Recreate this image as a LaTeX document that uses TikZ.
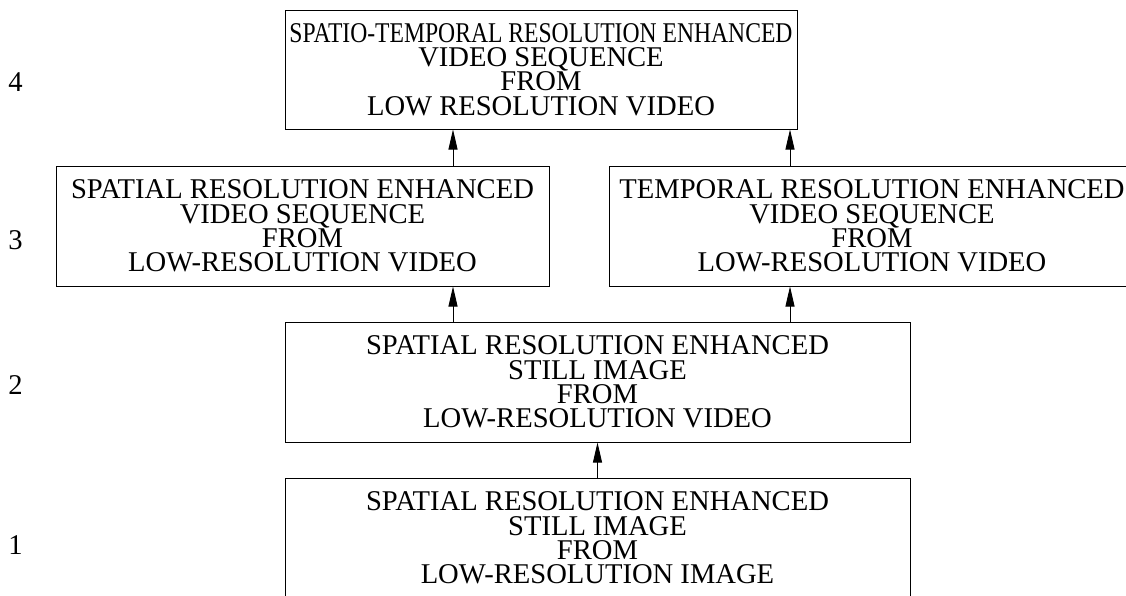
\documentclass[tikz,border=0pt]{standalone}
\usepackage{fontspec}
\setmainfont{Liberation Serif}
\usetikzlibrary{arrows.meta}
\begin{document}
\begin{tikzpicture}[x=1pt,y=-1pt,
  level/.style={draw, line width=1pt, align=center, inner sep=0pt,
    font=\fontsize{28.6}{24.3}\selectfont},
  num/.style={font=\fontsize{28.6}{24.3}\selectfont},
  arr/.style={line width=0.9pt, -{Triangle[length=20pt,width=9pt]}}]

\clip (0,0) rectangle (1126,595);

%draw levels
\node[num] (n4) at (15.5,82.5) {4};
\node[num] (n3) at (15.5,240) {3};
\node[num] (n2) at (15.5,385) {2};
\node[num] (n1) at (15.5,545) {1};

%draw boxes
\node[level, minimum width=512pt, minimum height=119pt] (st4) at (541,69.5)
  {\scalebox{0.826}[1]{SPATIO-TEMPORAL RESOLUTION ENHANCED}\\VIDEO SEQUENCE\\FROM\\LOW RESOLUTION VIDEO};
\node[level, minimum width=493pt, minimum height=120pt] (sp3) at (302.5,226)
  {SPATIAL RESOLUTION ENHANCED\\VIDEO SEQUENCE\\FROM\\LOW-RESOLUTION VIDEO};
\node[level, minimum width=526pt, minimum height=120pt] (tm3) at (872,226)
  {TEMPORAL RESOLUTION ENHANCED\\VIDEO SEQUENCE\\FROM\\LOW-RESOLUTION VIDEO};
\node[level, minimum width=625pt, minimum height=120pt] (sp2) at (597.5,382)
  {SPATIAL RESOLUTION ENHANCED\\STILL IMAGE\\FROM\\LOW-RESOLUTION VIDEO};
\node[level, minimum width=625pt, minimum height=120pt] (sp1) at (597.5,538)
  {SPATIAL RESOLUTION ENHANCED\\STILL IMAGE\\FROM\\LOW-RESOLUTION IMAGE};

%draw arrows
\coordinate (cl) at (453,0);
\coordinate (cr) at (790,0);
\draw[arr] (sp1.north) -- (sp2.south);
\draw[arr] (sp2.north -| cl) -- (sp3.south -| cl);
\draw[arr] (sp2.north -| cr) -- (tm3.south -| cr);
\draw[arr] (sp3.north -| cl) -- (st4.south -| cl);
\draw[arr] (tm3.north -| cr) -- (st4.south -| cr);
\end{tikzpicture}
\end{document}
